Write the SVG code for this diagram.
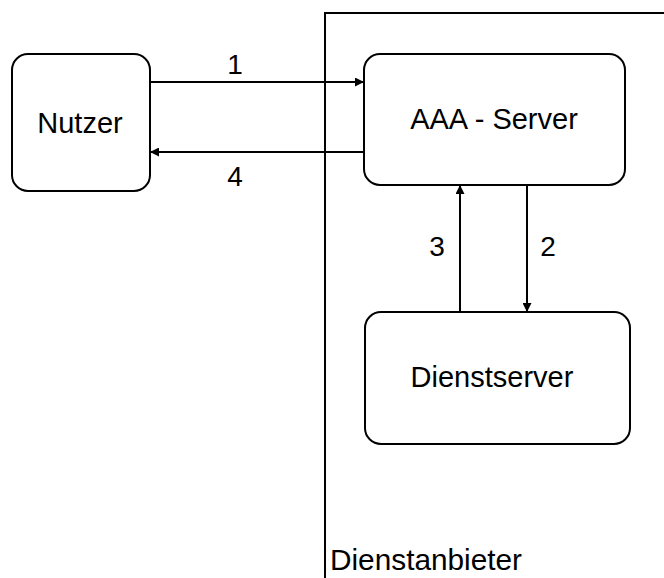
<svg xmlns="http://www.w3.org/2000/svg" width="664" height="578" viewBox="0 0 664 578">
<style>
.box{fill:#fff;stroke:#000;stroke-width:2}
.lbl{font-family:"Liberation Sans",Arial,sans-serif;font-size:29px;fill:#000}
.num{font-family:"Liberation Sans",Arial,sans-serif;font-size:28px;fill:#000}
.ln{stroke:#000;stroke-width:2;fill:none}
</style>
<defs>
<marker id="ah" viewBox="0 0 10 10" refX="10" refY="5" markerWidth="9" markerHeight="9" markerUnits="userSpaceOnUse" orient="auto">
<path d="M0,0 L10,5 L0,10 z" fill="#000"/>
</marker>
</defs>
<g id="boundary">
<path class="ln" d="M325,578 L325,13 L664,13"/>
<text class="lbl" x="330" y="570" textLength="192" lengthAdjust="spacingAndGlyphs">Dienstanbieter</text>
</g>
<g id="nutzer">
<rect class="box" x="12" y="54" width="138" height="137" rx="16"/>
<text class="lbl" x="80" y="133" text-anchor="middle">Nutzer</text>
</g>
<g id="aaa">
<rect class="box" x="364" y="54" width="261" height="131" rx="16"/>
<text class="lbl" x="494" y="129" text-anchor="middle">AAA - Server</text>
</g>
<g id="dienstserver">
<rect class="box" x="365" y="312" width="265" height="132" rx="16"/>
<text class="lbl" x="492" y="387" text-anchor="middle">Dienstserver</text>
</g>
<g id="connectors">
<line class="ln" x1="150" y1="82" x2="364" y2="82" marker-end="url(#ah)"/>
<line class="ln" x1="364" y1="152" x2="150" y2="152" marker-end="url(#ah)"/>
<line class="ln" x1="460" y1="312" x2="460" y2="185" marker-end="url(#ah)"/>
<line class="ln" x1="527" y1="185" x2="527" y2="312" marker-end="url(#ah)"/>
<text class="num" x="235" y="74" text-anchor="middle">1</text>
<text class="num" x="235" y="186" text-anchor="middle">4</text>
<text class="num" x="437" y="256" text-anchor="middle">3</text>
<text class="num" x="548" y="256" text-anchor="middle">2</text>
</g>
</svg>
